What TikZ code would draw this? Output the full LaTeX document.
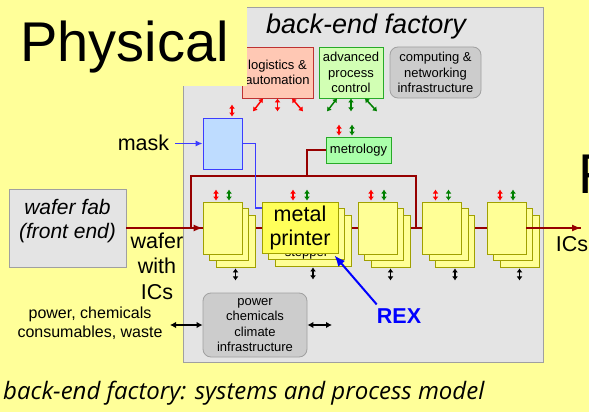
\documentclass[tikz,border=0pt]{standalone}
\usepackage{fontspec}
\setmainfont{Liberation Sans}
\newfontfamily\captionfont{Open Sans}
\usetikzlibrary{arrows.meta}

\definecolor{slideyellow}{RGB}{255,255,153}
\definecolor{framegray}{RGB}{228,228,228}
\definecolor{edgegray}{RGB}{160,160,160}
\definecolor{infragray}{RGB}{204,204,204}
\definecolor{logfill}{RGB}{255,200,180}
\definecolor{logedge}{RGB}{190,50,50}
\definecolor{apcfill}{RGB}{210,255,180}
\definecolor{apcedge}{RGB}{40,170,40}
\definecolor{metfill}{RGB}{170,255,170}
\definecolor{maskfill}{RGB}{190,220,255}
\definecolor{maskedge}{RGB}{60,60,255}
\definecolor{machfill}{RGB}{255,255,150}
\definecolor{machedge}{RGB}{160,160,0}
\definecolor{printfill}{RGB}{255,255,90}
\definecolor{flowred}{RGB}{150,0,0}
\definecolor{sigred}{RGB}{255,0,0}
\definecolor{siggreen}{RGB}{0,128,0}

\newcommand\pxfont[2]{\fontsize{#1}{#2}\selectfont}

\begin{document}
\begin{tikzpicture}[x=1pt,y=-1pt,
    unit/.style={draw, line width=0.8pt, inner sep=0pt, align=center, font=\pxfont{13}{15.3}},
    mach/.style={draw=machedge, fill=machfill, line width=0.8pt, minimum width=39pt, minimum height=52pt, inner sep=0pt},
    wide/.style={mach, minimum width=76pt, minimum height=51pt},
    flow/.style={draw=flowred, line width=1.3pt},
    flowarr/.style={flow, -{Latex[length=9pt,width=7pt]}},
    redsig/.style={sigred, line width=1.5pt, {Latex[length=4pt,width=6pt]}-{Latex[length=4pt,width=6pt]}},
    greensig/.style={redsig, siggreen},
    blacksig/.style={redsig, black},
    bothway/.style={black, line width=1.3pt, {Latex[length=6pt,width=6.5pt]}-{Latex[length=6pt,width=6.5pt]}},
    bigtext/.style={font=\pxfont{21.5}{25.5}, align=center, inner sep=0pt}]
  \useasboundingbox[fill=slideyellow] (0,0) rectangle (589,412);

  % the factory frame
  \draw[draw=edgegray, fill=framegray, line width=0.8pt] (183,7) rectangle (543,362);
  \node[font=\pxfont{27}{30}\itshape, anchor=base, inner sep=0pt] (title) at (366,34) {back-end factory};

  \node[unit, draw=logedge, fill=logfill, minimum width=71pt, minimum height=51pt] (log) at (277.5,72.5) {logistics \&\\automation};
  \node[unit, draw=apcedge, fill=apcfill, minimum width=64pt, minimum height=51pt] (apc) at (351,72.5) {advanced\\process\\control};
  \node[unit, draw=edgegray, fill=infragray, rounded corners=8pt, minimum width=91pt, minimum height=51pt] (comp) at (435.5,72.5) {computing \&\\networking\\infrastructure};

  % slide title
  \fill[slideyellow] (0,0) rectangle (247,86);
  \node[font=\pxfont{56}{60}, anchor=base west, inner sep=0pt] (phys) at (20,62) {Physical};

  \node[unit, draw=maskedge, fill=maskfill, minimum width=39pt, minimum height=51pt] (mask) at (222.5,143.5) {};
  \node[unit, draw=apcedge, fill=metfill, minimum width=65pt, minimum height=26pt] (met) at (358.5,150) {metrology};

  \node[unit, draw=edgegray, fill=framegray, minimum width=117pt, minimum height=78pt] (fab) at (67.5,228) {};
  \node[font=\pxfont{21}{24.5}\itshape, align=center, inner sep=0pt] (fabtxt) at (67.5,221) {wafer fab\\(front end)};

  % flow of wafers
  \coordinate (loopL) at (191,228);
  \coordinate (loopR) at (416,228);
  \coordinate (loopT) at (307,176);
  \coordinate (out) at (581,228);
  \draw[flow] (fab.east) -- (out);
  \draw[flow] (loopL) |- (loopT) -| (loopR);
  \draw[flow] (met.west) -| (loopT);

  % machines
  \node[mach] (m1c) at (235.5,241) {};
  \node[mach] (m1b) at (229,234.5) {};
  \node[mach] (m1) at (222.5,228) {};
  \node[wide] (stc) at (313,240.5) {};
  \node[wide] (stb) at (306.5,234) {};
  \node[font=\pxfont{13}{15}, anchor=base, inner sep=0pt] (steplbl) at (306.5,256) {stepper};
  \node[wide, fill=printfill, font=\pxfont{21.5}{24}, align=center] (mp) at (300,227.5) {metal\\printer};
  \node[mach] (m3c) at (390.5,241) {};
  \node[mach] (m3b) at (384,234.5) {};
  \node[mach] (m3) at (377.5,228) {};
  \node[mach] (m4c) at (455,241) {};
  \node[mach] (m4b) at (448.5,234.5) {};
  \node[mach] (m4) at (442,228) {};
  \node[mach] (m5c) at (519.5,241) {};
  \node[mach] (m5b) at (513,234.5) {};
  \node[mach] (m5) at (506.5,228) {};

  \draw[flowarr] (loopL) -- (m1.west);
  \draw[flowarr] (m5.east) -- (out);
  \draw[maskedge, line width=1.3pt] (mask.east) -- ++(13,0) |- (mp.west |- 0,208);

  % signals
  \draw[redsig] ([xshift=-6.5pt,yshift=1pt]m1.north) -- ++(0,-11);
  \draw[greensig] ([xshift=6.5pt,yshift=1pt]m1.north) -- ++(0,-11);
  \draw[redsig] ([xshift=-7pt,yshift=1pt]mp.north) -- ++(0,-11);
  \draw[greensig] ([xshift=7pt,yshift=1pt]mp.north) -- ++(0,-11);
  \draw[redsig] ([xshift=-6.5pt,yshift=1pt]m3.north) -- ++(0,-11);
  \draw[greensig] ([xshift=6.5pt,yshift=1pt]m3.north) -- ++(0,-11);
  \draw[redsig] ([xshift=-6.5pt,yshift=1pt]m4.north) -- ++(0,-11);
  \draw[greensig] ([xshift=6.5pt,yshift=1pt]m4.north) -- ++(0,-11);
  \draw[redsig] ([xshift=-6.5pt,yshift=1pt]m5.north) -- ++(0,-11);
  \draw[greensig] ([xshift=6.5pt,yshift=1pt]m5.north) -- ++(0,-11);
  \draw[blacksig] ([yshift=-1pt]m1c.south) -- ++(0,12);
  \draw[blacksig] ([yshift=-1pt]stc.south) -- ++(0,12);
  \draw[blacksig] ([yshift=-1pt]m3c.south) -- ++(0,12);
  \draw[blacksig] ([yshift=-1pt]m4c.south) -- ++(0,12);
  \draw[blacksig] ([yshift=-1pt]m5c.south) -- ++(0,12);
  \draw[redsig] ([xshift=9.5pt,yshift=1pt]mask.north) -- ++(0,-12);
  \draw[redsig] ([xshift=-19.5pt,yshift=1pt]met.north) -- ++(0,-11);
  \draw[greensig] ([xshift=-6.5pt,yshift=1pt]met.north) -- ++(0,-11);
  \draw[redsig] ([xshift=-14.5pt]log.south) -- ++(-10,13);
  \draw[redsig] (log.south) -- ++(0,13);
  \draw[redsig] ([xshift=14.5pt]log.south) -- ++(11,13);
  \draw[greensig] ([xshift=-14pt]apc.south) -- ++(-10,13);
  \draw[greensig] (apc.south) -- ++(0,13);
  \draw[greensig] ([xshift=14pt]apc.south) -- ++(12,13);

  % inputs and outputs
  \node[bigtext] (masklbl) at (143.5,142.5) {mask};
  \coordinate (maskin) at (175,143.5);
  \draw[maskedge, line width=1.3pt, -{Latex[length=7pt,width=6pt]}] (maskin) -- (mask.west);
  \node[bigtext] (waferlbl) at (157,266) {wafer\\with\\ICs};
  \node[bigtext] (icslbl) at (572,244.5) {ICs};

  \node[unit, draw=edgegray, fill=infragray, rounded corners=8pt, minimum width=104pt, minimum height=64pt] (infra) at (255,325) {power\\chemicals\\climate\\infrastructure};
  \node[font=\pxfont{16}{19}, align=center, inner sep=0pt] (supply) at (90,323.5) {power, chemicals\\consumables, waste};
  \coordinate (supplyin) at (170,325);
  \coordinate (infraout) at (332,325);
  \draw[bothway] (supplyin) -- (infra.west);
  \draw[bothway] (infra.east) -- (infraout);

  \node[font=\pxfont{21.5}{25}\bfseries, text=blue, inner sep=0pt] (rex) at (399,316) {REX};
  \draw[blue, line width=2pt, -{Latex[length=11pt,width=9pt]}] ([yshift=4pt]rex.north west) -- ([xshift=-4pt,yshift=-2pt]mp.south east);

  \node[font=\captionfont\itshape\pxfont{24}{28}, anchor=base west, inner sep=0pt] (caption) at (3,399) {back-end factory: systems and process model};
  \node[font=\pxfont{56}{60}, anchor=base west, inner sep=0pt] (fchar) at (578,193) {F};
\end{tikzpicture}
\end{document}
